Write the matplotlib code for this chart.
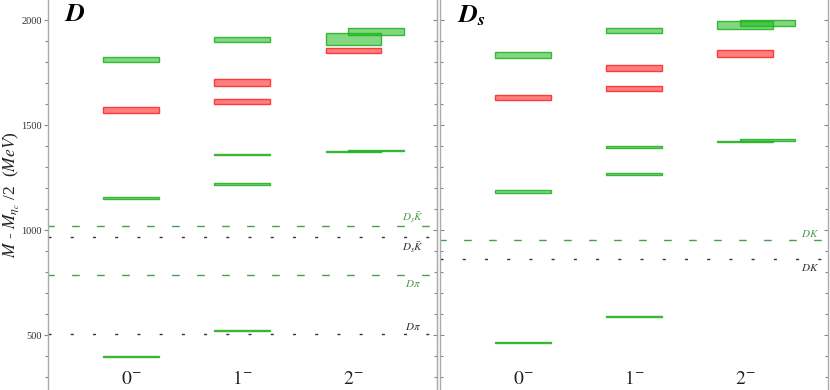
import matplotlib
matplotlib.use("Agg")
import matplotlib.pyplot as plt
from matplotlib.ticker import MultipleLocator

plt.rcParams['mathtext.fontset'] = 'stix'
plt.rcParams['font.family'] = ['Liberation Serif', 'DejaVu Serif']

# J^P channels
channels = ["$0^{-}$", "$1^{-}$", "$2^{-}$"]

# D mesons: (channel index, low, high) in MeV, M - M_etac/2
d_green_cat = [0, 0, 0, 1, 1, 1, 1, 2, 2]
d_green_lo = [399, 1148, 1801, 523, 1214, 1357, 1898, 1372, 1885]
d_green_hi = [403, 1161, 1824, 527, 1227, 1365, 1922, 1380, 1940]
d_red_cat = [0, 1, 1, 2]
d_red_lo = [1560, 1603, 1689, 1844]
d_red_hi = [1589, 1624, 1721, 1868]
# second determination of the 2^- states (drawn shifted)
d_alt_cat = [2, 2]
d_alt_lo = [1376, 1928]
d_alt_hi = [1385, 1964]

# D_s mesons
ds_green_cat = [0, 0, 0, 1, 1, 1, 1, 2, 2]
ds_green_lo = [465, 1177, 1822, 586, 1262, 1394, 1941, 1419, 1958]
ds_green_hi = [469, 1194, 1849, 591, 1274, 1403, 1965, 1428, 1997]
ds_red_cat = [0, 1, 1, 2]
ds_red_lo = [1620, 1663, 1757, 1825]
ds_red_hi = [1643, 1687, 1787, 1859]
ds_alt_cat = [2, 2]
ds_alt_lo = [1424, 1973]
ds_alt_hi = [1434, 2002]

# two-meson thresholds: lattice (green dashed) and physical (black dotted)
d_thr_lat = [1020, 787]
d_thr_lat_lbl = [r"$D_s\bar{K}$", r"$D\pi$"]
d_thr_phys = [967, 509]
d_thr_phys_lbl = [r"$D_s\bar{K}$", r"$D\pi$"]
d_lbl_above = [True, False]
d_phys_above = [False, True]

ds_thr_lat = [954]
ds_thr_lat_lbl = [r"$DK$"]
ds_thr_phys = [863]
ds_thr_phys_lbl = [r"$DK$"]
ds_lbl_above = [True]
ds_phys_above = [False]

GREEN_FACE = (0.1, 0.72, 0.1, 0.55)
GREEN_EDGE = (0.15, 0.7, 0.15, 0.9)
RED_FACE = (1.0, 0.0, 0.0, 0.5)
RED_EDGE = (1.0, 0.2, 0.2, 0.95)
LAT_COL = '#4c9e4c'
PHYS_COL = '#333333'
WIDTH = 0.5
SHIFT = 0.2


def draw_levels(ax, cat, lo, hi, face, edge, shift=0.0):
    x = [c + shift for c in cat]
    h = [b - a for a, b in zip(lo, hi)]
    ax.bar(x, h, bottom=lo, width=WIDTH, color=face, edgecolor=edge, linewidth=1.0)


def draw_thresholds(ax, lat, lat_lbl, lat_above, phys, phys_lbl, phys_above, xlab):
    for y, lbl, up in zip(lat, lat_lbl, lat_above):
        ax.axhline(y, color=LAT_COL, lw=1.0, ls=(1.0, (5.5, 12.5)))
        ax.annotate(lbl, (xlab, y), xytext=(0, 1 if up else -2), textcoords='offset points',
                    ha='center', va='bottom' if up else 'top', color=LAT_COL, fontsize=8)
    for y, lbl, up in zip(phys, phys_lbl, phys_above):
        ax.axhline(y, color=PHYS_COL, lw=1.0, ls=(0, (2.2, 13.8)))
        ax.annotate(lbl, (xlab, y), xytext=(0, 1 if up else -2), textcoords='offset points',
                    ha='center', va='bottom' if up else 'top', color=PHYS_COL, fontsize=8)


def style_axis(ax):
    ax.set_xlim(-0.745, 2.745)
    ax.set_ylim(240, 2097)
    ax.set_xticks([])
    ax.spines['top'].set_visible(False)
    ax.spines['bottom'].set_visible(False)
    for s in ('left', 'right'):
        ax.spines[s].set_color('#aaaaaa')
        ax.spines[s].set_linewidth(1.0)
    ax.yaxis.set_major_locator(MultipleLocator(500))
    ax.yaxis.set_minor_locator(MultipleLocator(100))
    ax.tick_params(axis='y', which='both', colors='#888888', labelcolor='#333333',
                   labelsize=7.5, width=0.8, pad=1.5)
    ax.tick_params(axis='y', which='major', length=3)
    ax.tick_params(axis='y', which='minor', length=2.5)
    for i, lab in enumerate(channels):
        ax.text(i, 0.028, lab, transform=ax.get_xaxis_transform(), ha='center', va='center',
                fontsize=14, color='#222222')


fig = plt.figure(figsize=(8.3, 3.9), dpi=100)
ax1 = fig.add_axes([48 / 830, 0, 388.5 / 830, 1])
ax2 = fig.add_axes([440 / 830, 0, 388 / 830, 1])

style_axis(ax1)
ax1.tick_params(axis='y', which='both', direction='out', left=True, right=False)
sec = ax1.secondary_yaxis('right')
sec.yaxis.set_major_locator(MultipleLocator(500))
sec.yaxis.set_minor_locator(MultipleLocator(100))
sec.tick_params(axis='y', which='both', direction='in', colors='#888888', labelright=False, width=0.8)
sec.tick_params(axis='y', which='major', length=3)
sec.tick_params(axis='y', which='minor', length=2.5)
sec.spines['right'].set_color('#aaaaaa')

style_axis(ax2)
ax2.tick_params(axis='y', which='both', direction='in', left=True, right=True, labelleft=False)

draw_thresholds(ax1, d_thr_lat, d_thr_lat_lbl, d_lbl_above, d_thr_phys, d_thr_phys_lbl,
                d_phys_above, 2.53)
draw_thresholds(ax2, ds_thr_lat, ds_thr_lat_lbl, ds_lbl_above, ds_thr_phys, ds_thr_phys_lbl,
                ds_phys_above, 2.58)

draw_levels(ax1, d_green_cat, d_green_lo, d_green_hi, GREEN_FACE, GREEN_EDGE)
draw_levels(ax1, d_red_cat, d_red_lo, d_red_hi, RED_FACE, RED_EDGE)
draw_levels(ax1, d_alt_cat, d_alt_lo, d_alt_hi, GREEN_FACE, GREEN_EDGE, SHIFT)

draw_levels(ax2, ds_green_cat, ds_green_lo, ds_green_hi, GREEN_FACE, GREEN_EDGE)
draw_levels(ax2, ds_red_cat, ds_red_lo, ds_red_hi, RED_FACE, RED_EDGE)
draw_levels(ax2, ds_alt_cat, ds_alt_lo, ds_alt_hi, GREEN_FACE, GREEN_EDGE, SHIFT)

ax1.text(0.04, 0.99, r"$\mathbfit{D}$", transform=ax1.transAxes, ha='left', va='top', fontsize=19)
ax2.text(0.044, 0.99, r"$\mathbfit{D_s}$", transform=ax2.transAxes, ha='left', va='top', fontsize=19)

fig.text(0.0135, 0.5, r"$M$ - $M_{\eta_c}$ /2  ($MeV$)", rotation=90,
         ha='center', va='center', fontsize=12.5, color='#222222')

fig.savefig("out.png", dpi=100)
